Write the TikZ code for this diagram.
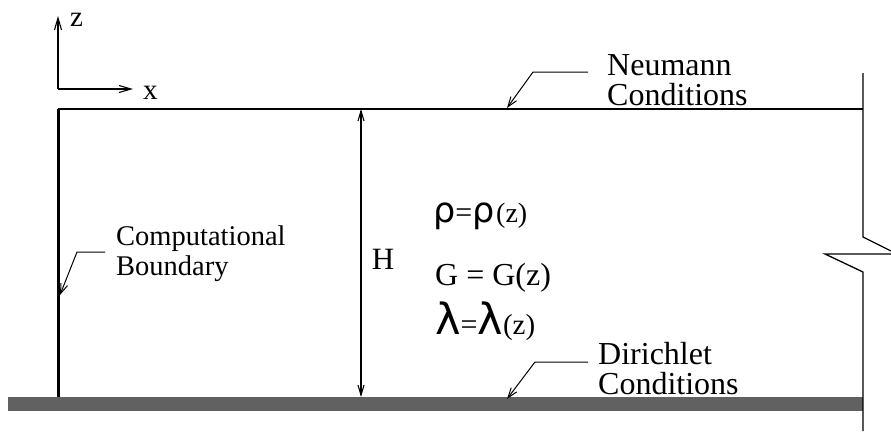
\documentclass[tikz,border=0pt]{standalone}
\usepackage{fontspec}
\setmainfont{Liberation Serif}
\newfontfamily\gkfont{DejaVu Sans}
\usetikzlibrary{arrows.meta}
\newcommand\grk[2]{{\gkfont\fontsize{#1}{#1}\selectfont #2}}
\newcommand\rmsz[2]{{\fontsize{#1}{#1}\selectfont #2}}
\begin{document}
\begin{tikzpicture}[x=1pt,y=-1pt,
  txt/.style={inner sep=0pt, anchor=base west},
  lblfont/.style={font=\fontsize{32}{32}\selectfont},
  cbfont/.style={font=\fontsize{28.5}{28.5}\selectfont},
  axfont/.style={font=\fontsize{29}{29}\selectfont},
  thinline/.style={line width=1.3pt},
  leader/.style={line width=1pt, -{Straight Barb[length=10pt,width=7pt]}},
  axisarrow/.style={line width=1.1pt, -{Straight Barb[length=12pt,width=7pt]}},
  dimarrow/.style={line width=1.1pt, {Straight Barb[length=10pt,width=6pt]}-{Straight Barb[length=10pt,width=6pt]}},
]
\useasboundingbox (0,0) rectangle (891,431);
% ground band
\fill[black!62] (8,397) rectangle (863,411);
% key coordinates
\coordinate (O) at (58,89);
\coordinate (zend) at (58,16);
\coordinate (xend) at (133,89);
\coordinate (TL) at (58,109);
\coordinate (TR) at (863,109);
\coordinate (BL) at (58,397);
\coordinate (Htop) at (361,109);
\coordinate (Hbot) at (361,397);
% axes
\draw[axisarrow] (O) -- (zend);
\draw[axisarrow] (O) -- (xend);
\node[txt, axfont] (zlab) at (70,26) {z};
\node[txt, axfont] (xlab) at (143,99) {x};
% domain
\draw[line width=3pt] (TL) -- (BL);
\draw[thinline] (TL) -- (TR);
% right side with break
\draw[thinline] (863,73) -- (863,237) -- (891,251);
\draw[thinline] (891,254) -- (825,254) -- (863,272) -- (863,431);
% height
\draw[dimarrow] (Htop) -- (Hbot);
\node[font=\fontsize{31}{31}\selectfont, inner sep=0pt] (H) at (383,259) {H};
% equations
\node[txt] (rho) at (433,222) {\grk{35}{ρ}\rmsz{30}{=}\grk{35}{ρ}\,\rmsz{28}{(z)}};
\node[txt, font=\fontsize{32}{32}\selectfont] (G) at (435,285) {G = G(z)};
\node[txt] (lam) at (435,334) {\grk{43}{λ}\rmsz{30}{=}\grk{43}{λ}\rmsz{29}{(z)}};
% labels
\node[txt, lblfont] (neuA) at (607,75) {Neumann};
\node[txt, lblfont] (neuB) at (607,105) {Conditions};
\node[txt, cbfont] (cbA) at (116,245) {Computational};
\node[txt, cbfont] (cbB) at (116,275) {Boundary};
\node[txt, lblfont] (dirA) at (598,364) {Dirichlet};
\node[txt, lblfont] (dirB) at (598,394) {Conditions};
% leaders
\coordinate (nS) at (588,72);
\coordinate (nK) at (533,72);
\coordinate (nT) at (507,108);
\draw[leader] (nS) -- (nK) -- (nT);
\coordinate (cS) at (105,252);
\coordinate (cK) at (77,252);
\coordinate (cT) at (60,295);
\draw[leader] (cS) -- (cK) -- (cT);
\coordinate (dS) at (588,362);
\coordinate (dK) at (535,362);
\coordinate (dT) at (507,399);
\draw[leader] (dS) -- (dK) -- (dT);
\end{tikzpicture}
\end{document}
